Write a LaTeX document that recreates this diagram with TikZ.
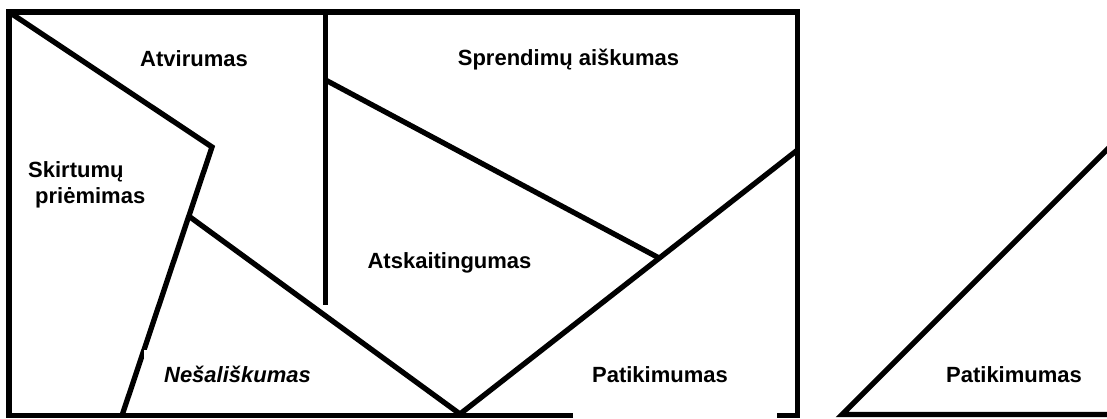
\documentclass[tikz,border=0pt]{standalone}
\usepackage{fontspec}
\setmainfont{Liberation Sans}
\begin{document}
\begin{tikzpicture}[x=1pt,y=-1pt,
  edge/.style={line width=5.3pt,black},
  lbl/.style={font=\fontsize{22}{26}\selectfont\bfseries,inner sep=0pt,anchor=base}]
\useasboundingbox (0,0) rectangle (1107,418);
% corner points
\coordinate (TL) at (9,12);
\coordinate (TR) at (797.5,12);
\coordinate (BL) at (9,415.5);
\coordinate (BR) at (797.5,415.5);
\coordinate (gapL) at (573,415.5);
\coordinate (gapR) at (777,415.5);
\coordinate (K1) at (212,147);
\coordinate (K2) at (122,415.5);
\coordinate (K3) at (190,217);
\coordinate (V) at (460,414);
\coordinate (R1) at (797.5,150);
\coordinate (VT) at (325.5,12);
\coordinate (VB) at (325.5,305);
\coordinate (S1) at (325.5,80);
\coordinate (S2) at (660,258.5);
\coordinate (T1) at (842,414.5);
\coordinate (T2) at (1112,144.5);
\coordinate (T3) at (1112,414.5);
% frame
\draw[edge] (gapL) -- (BL) -- (TL) -- (TR) -- (BR) -- (gapR);
% inner lines
\draw[edge] (TL) -- (K1) -- (K2);
\draw[edge] (K3) -- (V) -- (R1);
\draw[edge] (VT) -- (VB);
\draw[edge] (S1) -- (S2);
% right triangle
\draw[edge] (T2) -- (T1) -- (T3);
% white backing of the italic label
\fill[white] (144,350) rectangle (330,395);
% labels
\node[lbl] (atv) at (194,66) {Atvirumas};
\node[lbl] (spr) at (568.5,65) {Sprendimų aiškumas};
\node[lbl,anchor=base west] (sk1) at (28,177) {Skirtumų};
\node[lbl,anchor=base west] (sk2) at (35,203) {priėmimas};
\node[lbl] (ats) at (449.5,268) {Atskaitingumas};
\node[lbl,font=\fontsize{22}{26}\selectfont\bfseries\itshape] (nes) at (237.5,382) {Nešališkumas};
\node[lbl] (pat1) at (660,382) {Patikimumas};
\node[lbl] (pat2) at (1014,382) {Patikimumas};
\end{tikzpicture}
\end{document}
